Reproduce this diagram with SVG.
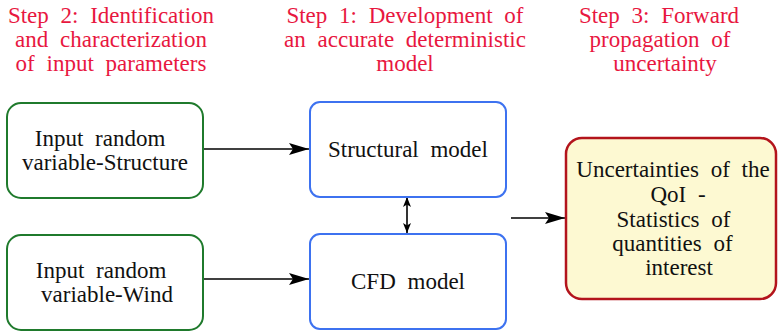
<svg xmlns="http://www.w3.org/2000/svg" width="778" height="331" viewBox="0 0 778 331">
  <style>
    text { font-family: "Liberation Serif", "Times New Roman", serif; font-size: 23px; text-anchor: middle; word-spacing: 6px; fill: #111; }
    .step { fill: #e8173f; }
    .input { fill: #fff; stroke: #1f7a2c; stroke-width: 2; }
    .model { fill: #fff; stroke: #3d72f0; stroke-width: 2; }
    .qoi { fill: #fdf9d2; stroke: #b3141c; stroke-width: 2.5; }
    .edge { stroke: #000; stroke-width: 1.6; fill: none; }
  </style>
  <defs>
    <marker id="arrow" viewBox="0 0 10 8" refX="10" refY="4" markerWidth="10" markerHeight="8" markerUnits="userSpaceOnUse" orient="auto-start-reverse">
      <path d="M0,0 L10,4 L0,8 L2.5,4 Z" fill="#000"/>
    </marker>
    <marker id="arrowBig" viewBox="0 0 20 12" refX="20" refY="6" markerWidth="20" markerHeight="12" markerUnits="userSpaceOnUse" orient="auto">
      <path d="M0,0 L20,6 L0,12 L4,6 Z" fill="#000"/>
    </marker>
  </defs>

  <!-- step headings -->
  <g id="step2">
    <text class="step" x="111" y="23">Step 2: Identification</text>
    <text class="step" x="111" y="47">and characterization</text>
    <text class="step" x="111" y="71">of input parameters</text>
  </g>
  <g id="step1">
    <text class="step" x="405" y="23" word-spacing="7">Step 1: Development of</text>
    <text class="step" x="405" y="47" word-spacing="7">an accurate deterministic</text>
    <text class="step" x="405" y="71">model</text>
  </g>
  <g id="step3">
    <text class="step" x="659" y="23">Step 3: Forward</text>
    <text class="step" x="660" y="47">propagation of</text>
    <text class="step" x="665" y="71">uncertainty</text>
  </g>

  <!-- connectors -->
  <g id="connectors">
    <line class="edge" x1="203" y1="149" x2="309" y2="149" marker-end="url(#arrowBig)"/>
    <line class="edge" x1="203" y1="279" x2="309" y2="279" marker-end="url(#arrowBig)"/>
    <line class="edge" x1="407" y1="197" x2="407" y2="233" marker-start="url(#arrow)" marker-end="url(#arrow)"/>
    <line class="edge" x1="511" y1="218" x2="565" y2="218" marker-end="url(#arrowBig)"/>
  </g>

  <!-- input variables -->
  <g id="input-structure">
    <rect class="input" x="7" y="103" width="196" height="95" rx="14"/>
    <text x="100" y="146">Input random</text>
    <text x="105" y="170">variable-Structure</text>
  </g>
  <g id="input-wind">
    <rect class="input" x="7" y="235" width="196" height="95" rx="14"/>
    <text x="101" y="278">Input random</text>
    <text x="107" y="302">variable-Wind</text>
  </g>

  <!-- deterministic models -->
  <g id="structural-model">
    <rect class="model" x="310" y="102" width="196" height="95" rx="10"/>
    <text x="408" y="157">Structural model</text>
  </g>
  <g id="cfd-model">
    <rect class="model" x="310" y="234" width="196" height="95" rx="10"/>
    <text x="408" y="289">CFD model</text>
  </g>

  <!-- quantities of interest -->
  <g id="qoi">
    <rect class="qoi" x="566" y="138" width="210" height="161" rx="16"/>
    <text x="673" y="177">Uncertainties of the</text>
    <text x="678" y="202">QoI -</text>
    <text x="673.5" y="227">Statistics of</text>
    <text x="672.5" y="251">quantities of</text>
    <text x="679" y="275">interest</text>
  </g>
</svg>
